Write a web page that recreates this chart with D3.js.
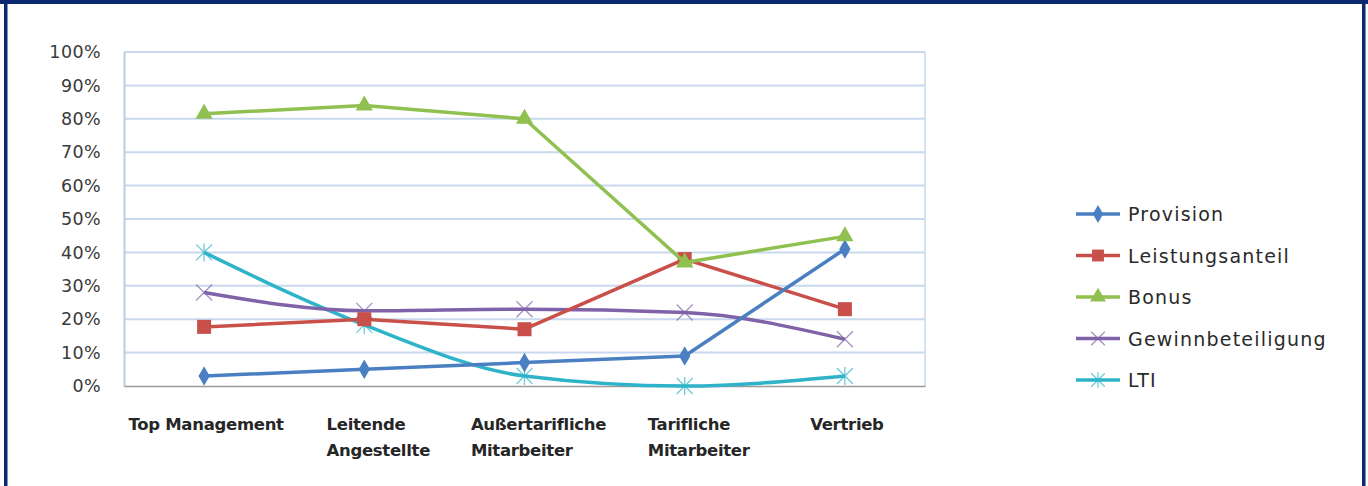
<!DOCTYPE html>
<html><head><meta charset="utf-8">
<script src="https://cdn.jsdelivr.net/npm/d3@7"></script>
<style>
html,body{margin:0;padding:0;background:#fff;}
svg{display:block;}
</style></head>
<body>
<svg id="chart" width="1368" height="486"></svg>
<script>
const categories = [["Top Management"], ["Leitende","Angestellte"], ["Außertarifliche","Mitarbeiter"], ["Tarifliche","Mitarbeiter"], ["Vertrieb"]];
const provision = [3, 5, 7, 9, 41];
const leistungsanteil = [17.7, 20, 17, 38, 23];
const bonus = [81.5, 84, 80, 37, 44.8];
const gewinnbeteiligung = [28, 22.5, 23, 22, 14];
const lti = [40, 18.3, 3, 0, 3];
const yTicks = [0,10,20,30,40,50,60,70,80,90,100];
const seriesNames = ["Provision","Leistungsanteil","Bonus","Gewinnbeteiligung","LTI"];

const series = [
  {name: seriesNames[0], values: provision, color: "#4a7fc1", marker: "diamond", smooth:false},
  {name: seriesNames[1], values: leistungsanteil, color: "#c9504a", marker: "square", smooth:false},
  {name: seriesNames[2], values: bonus, color: "#8fc050", marker: "triangle", smooth:false},
  {name: seriesNames[3], values: gewinnbeteiligung, color: "#8062a8", marker: "x", smooth:true},
  {name: seriesNames[4], values: lti, color: "#2fb3c9", marker: "star", smooth:true}
];

const svg = d3.select("#chart");
const W = 1368, H = 486;
const plot = {left:124, right:925, top:52, bottom:386};

// frame
svg.append("rect").attr("x",0).attr("y",0).attr("width",W).attr("height",H).attr("fill","#fff");
svg.append("rect").attr("x",0).attr("y",0).attr("width",W).attr("height",4).attr("fill","#0b2a6f");
svg.append("rect").attr("x",4).attr("y",0).attr("width",3.5).attr("height",H).attr("fill","#0b2a6f");
svg.append("rect").attr("x",1362).attr("y",0).attr("width",3.5).attr("height",H).attr("fill","#0b2a6f");

const x = d3.scaleBand().domain(d3.range(categories.length)).range([plot.left, plot.right]).padding(0);
const cx = i => x(i) + x.bandwidth()/2;
const y = d3.scaleLinear().domain([0,100]).range([plot.bottom, plot.top]);

// gridlines
svg.append("g").selectAll("line").data(yTicks.filter(d=>d>0)).join("line")
  .attr("x1",plot.left).attr("x2",plot.right)
  .attr("y1",d=>y(d)).attr("y2",d=>y(d))
  .attr("stroke","#c8d8ee").attr("stroke-width",2);
svg.append("line").attr("x1",plot.right).attr("x2",plot.right).attr("y1",plot.top).attr("y2",plot.bottom)
  .attr("stroke","#c8d8ee").attr("stroke-width",1.5);

// y axis
const yAxis = d3.axisLeft(y).tickValues(yTicks).tickFormat(d=>d+"%").tickSize(0).tickPadding(23);
const gy = svg.append("g").attr("transform",`translate(${plot.left},0)`).call(yAxis);
gy.select(".domain").attr("stroke","#b9cde8").attr("stroke-width",2);
gy.selectAll("text").attr("font-family","DejaVu Sans, sans-serif").attr("font-size",17.5)
  .attr("fill","#3a3a3a").attr("letter-spacing","0.4");

// x axis
const xAxis = d3.axisBottom(x).tickSize(0).tickFormat("");
const gx = svg.append("g").attr("transform",`translate(0,${plot.bottom})`).call(xAxis);
gx.select(".domain").attr("stroke","#9a9a9a").attr("stroke-width",1.5);

// category labels (wrapped, left-aligned in block)
const catG = svg.append("g");
categories.forEach((lines,i)=>{
  const g = catG.append("g");
  const texts = lines.map((l,j)=> g.append("text").text(l)
     .attr("y", 430 + j*26)
     .attr("font-family","DejaVu Sans, sans-serif").attr("font-weight","bold")
     .attr("font-size",16.5).attr("fill","#262626").attr("letter-spacing","-0.3"));
  const maxW = d3.max(texts, t=>t.node().getComputedTextLength());
  const shift = lines.length > 1 ? 14 : 2;
  texts.forEach(t=>t.attr("x", cx(i) - maxW/2 + shift));
});

// lines
const lineStraight = d3.line().x((d,i)=>cx(i)).y(d=>y(d));
const lineSmooth = d3.line().x((d,i)=>cx(i)).y(d=>y(d)).curve(d3.curveMonotoneX);

function drawMarker(g, type, color, px, py, s){
  s = s||1;
  if(type==="diamond"){
    g.append("path").attr("d",d3.symbol(d3.symbolDiamond, 110*s)()).attr("transform",`translate(${px},${py})`).attr("fill",color);
  } else if(type==="square"){
    const a=14*s; g.append("rect").attr("x",px-a/2).attr("y",py-a/2).attr("width",a).attr("height",a).attr("fill",color);
  } else if(type==="triangle"){
    g.append("path").attr("d",d3.symbol(d3.symbolTriangle, 130*s)()).attr("transform",`translate(${px},${py})`).attr("fill",color);
  } else if(type==="x"){
    const r=8*s;
    g.append("path").attr("d",`M${px-r},${py-r}L${px+r},${py+r}M${px-r},${py+r}L${px+r},${py-r}`)
      .attr("stroke",color).attr("stroke-width",1.3).attr("opacity",0.7).attr("fill","none");
  } else if(type==="star"){
    const r=8*s;
    g.append("path").attr("d",`M${px-r},${py-r}L${px+r},${py+r}M${px-r},${py+r}L${px+r},${py-r}M${px},${py-r-1}L${px},${py+r+1}`)
      .attr("stroke",color).attr("stroke-width",1.3).attr("opacity",0.7).attr("fill","none");
  }
}

const order = [4,3,1,0,2];
order.forEach(k=>{
  const s = series[k];
  const g = svg.append("g");
  g.append("path").datum(s.values).attr("d", s.smooth? lineSmooth : lineStraight)
    .attr("fill","none").attr("stroke",s.color).attr("stroke-width",3.5).attr("stroke-linejoin","round");
  s.values.forEach((v,i)=>drawMarker(g, s.marker, s.color, cx(i), y(v)));
});

// legend
const leg = svg.append("g");
series.forEach((s,i)=>{
  const yy = 214 + i*41.5;
  leg.append("line").attr("x1",1076).attr("x2",1120).attr("y1",yy).attr("y2",yy)
    .attr("stroke",s.color).attr("stroke-width",3.5);
  drawMarker(leg, s.marker, s.color, 1098, yy, 0.85);
  leg.append("text").text(s.name).attr("x",1128).attr("y",yy+7)
    .attr("font-family","DejaVu Sans, sans-serif").attr("font-size",19)
    .attr("fill","#2a2a2a").attr("letter-spacing","1.2");
});
</script>
</body></html>
